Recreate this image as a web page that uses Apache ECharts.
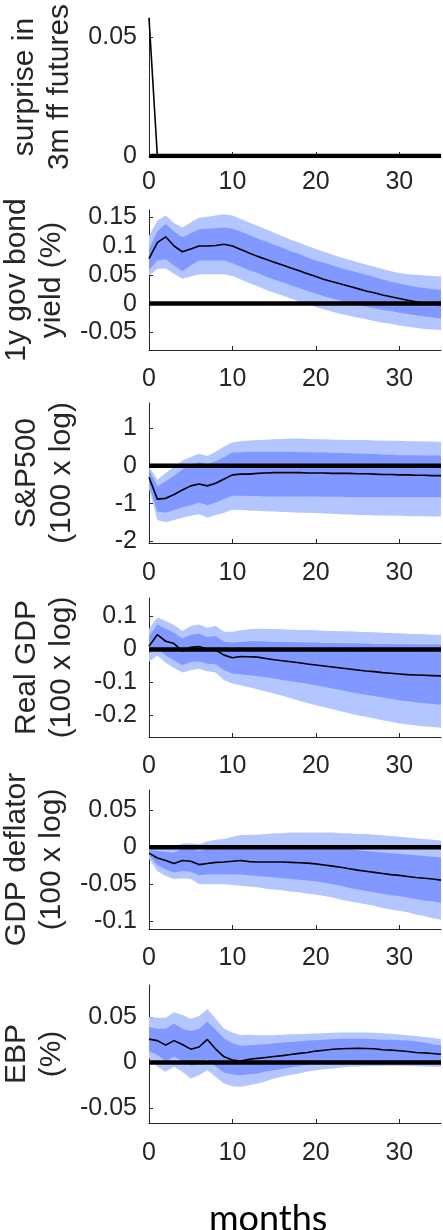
<!DOCTYPE html>
<html>
<head>
<meta charset="utf-8">
<script src="https://cdn.jsdelivr.net/npm/echarts@6/dist/echarts.min.js"></script>
<style>
html,body{margin:0;padding:0;background:#fff;}
#chart{width:443px;height:1230px;}
</style>
</head>
<body>
<div id="chart"></div>
<script>
var months = [0,1,2,3,4,5,6,7,8,9,10,11,12,13,14,15,16,17,18,19,20,21,22,23,24,25,26,27,28,29,30,31,32,33,34,35];
var xTicks = [0,10,20,30];

// Panel 1: surprise in 3m ff futures
var p1Line = [0.058,0,0,0,0,0,0,0,0,0,0,0,0,0,0,0,0,0,0,0,0,0,0,0,0,0,0,0,0,0,0,0,0,0,0,0];
var p1Ticks = [0,0.05];

// Panel 2: 1y gov bond yield
var p2Line = [0.078,0.106,0.116,0.100,0.090,0.095,0.100,0.100,0.101,0.103,0.100,0.094,0.088,0.082,0.077,0.072,0.067,0.062,0.057,0.052,0.047,0.042,0.038,0.034,0.030,0.026,0.022,0.019,0.015,0.012,0.009,0.006,0.003,0.001,-0.001,-0.002];
var p2Hi68 = [0.095,0.125,0.138,0.125,0.115,0.122,0.129,0.130,0.131,0.132,0.130,0.125,0.119,0.113,0.108,0.102,0.097,0.091,0.086,0.080,0.075,0.071,0.066,0.062,0.058,0.054,0.050,0.046,0.042,0.038,0.035,0.032,0.029,0.027,0.025,0.024];
var p2Lo68 = [0.059,0.075,0.077,0.066,0.056,0.066,0.075,0.075,0.075,0.075,0.070,0.064,0.058,0.053,0.047,0.042,0.037,0.032,0.027,0.022,0.017,0.013,0.009,0.005,0.001,-0.002,-0.005,-0.008,-0.011,-0.013,-0.016,-0.018,-0.020,-0.022,-0.024,-0.026];
var p2Hi95 = [0.118,0.144,0.153,0.140,0.132,0.141,0.149,0.151,0.153,0.155,0.153,0.147,0.141,0.135,0.129,0.123,0.117,0.111,0.106,0.100,0.095,0.090,0.085,0.080,0.076,0.072,0.068,0.064,0.060,0.056,0.053,0.051,0.050,0.049,0.048,0.047];
var p2Lo95 = [0.049,0.060,0.061,0.052,0.043,0.047,0.051,0.051,0.051,0.051,0.048,0.042,0.036,0.030,0.024,0.019,0.014,0.009,0.004,-0.001,-0.006,-0.010,-0.014,-0.018,-0.021,-0.024,-0.027,-0.030,-0.033,-0.035,-0.038,-0.040,-0.042,-0.044,-0.045,-0.046];
var p2Ticks = [-0.05,0,0.05,0.1,0.15];

// Panel 3: S&P500
var p3Line = [-0.30,-0.88,-0.86,-0.76,-0.64,-0.53,-0.48,-0.53,-0.46,-0.35,-0.24,-0.22,-0.22,-0.20,-0.19,-0.18,-0.18,-0.18,-0.18,-0.19,-0.19,-0.19,-0.20,-0.20,-0.20,-0.21,-0.21,-0.22,-0.23,-0.23,-0.24,-0.24,-0.25,-0.25,-0.26,-0.26];
var p3Hi68 = [-0.10,-0.55,-0.41,-0.26,-0.10,0.03,0.10,0.04,0.12,0.23,0.35,0.36,0.37,0.37,0.37,0.37,0.37,0.37,0.36,0.36,0.35,0.35,0.34,0.34,0.33,0.32,0.32,0.31,0.30,0.29,0.28,0.28,0.28,0.27,0.27,0.27];
var p3Lo68 = [-0.50,-1.21,-1.24,-1.17,-1.10,-1.04,-0.97,-1.04,-0.97,-0.88,-0.79,-0.79,-0.80,-0.80,-0.81,-0.81,-0.81,-0.81,-0.81,-0.81,-0.81,-0.82,-0.82,-0.82,-0.83,-0.83,-0.83,-0.83,-0.83,-0.83,-0.83,-0.83,-0.83,-0.83,-0.83,-0.83];
var p3Hi95 = [-0.02,-0.37,-0.19,-0.03,0.14,0.23,0.32,0.26,0.37,0.51,0.62,0.65,0.67,0.68,0.69,0.70,0.71,0.72,0.72,0.71,0.70,0.70,0.69,0.69,0.68,0.68,0.68,0.67,0.67,0.66,0.66,0.65,0.65,0.64,0.64,0.63];
var p3Lo95 = [-0.60,-1.43,-1.49,-1.43,-1.37,-1.32,-1.28,-1.37,-1.30,-1.24,-1.16,-1.17,-1.18,-1.19,-1.20,-1.21,-1.22,-1.23,-1.24,-1.24,-1.25,-1.26,-1.27,-1.28,-1.29,-1.30,-1.30,-1.31,-1.31,-1.32,-1.32,-1.33,-1.33,-1.33,-1.34,-1.34];
var p3Ticks = [-2,-1,0,1];

// Panel 4: Real GDP
var p4Line = [0.010,0.045,0.025,0.018,-0.005,0.007,0.009,0.001,-0.002,-0.017,-0.025,-0.021,-0.022,-0.023,-0.027,-0.031,-0.034,-0.037,-0.040,-0.044,-0.047,-0.050,-0.053,-0.056,-0.059,-0.062,-0.065,-0.067,-0.070,-0.072,-0.074,-0.076,-0.077,-0.078,-0.079,-0.080];
var p4Hi68 = [0.040,0.076,0.063,0.051,0.033,0.045,0.048,0.038,0.041,0.023,0.021,0.023,0.025,0.025,0.024,0.023,0.023,0.022,0.022,0.021,0.021,0.020,0.020,0.019,0.019,0.018,0.018,0.017,0.017,0.016,0.016,0.016,0.015,0.015,0.015,0.015];
var p4Lo68 = [-0.012,0.003,-0.018,-0.033,-0.047,-0.038,-0.036,-0.043,-0.045,-0.063,-0.073,-0.075,-0.078,-0.081,-0.084,-0.088,-0.092,-0.096,-0.100,-0.104,-0.108,-0.113,-0.118,-0.123,-0.128,-0.133,-0.137,-0.141,-0.145,-0.149,-0.154,-0.157,-0.160,-0.163,-0.165,-0.167];
var p4Hi95 = [0.063,0.097,0.086,0.074,0.056,0.071,0.076,0.066,0.072,0.054,0.054,0.058,0.061,0.063,0.062,0.062,0.061,0.060,0.059,0.059,0.058,0.057,0.056,0.055,0.055,0.054,0.053,0.052,0.051,0.050,0.049,0.048,0.047,0.046,0.045,0.044];
var p4Lo95 = [-0.036,-0.018,-0.040,-0.056,-0.070,-0.063,-0.058,-0.066,-0.070,-0.093,-0.103,-0.108,-0.114,-0.120,-0.127,-0.133,-0.140,-0.148,-0.155,-0.162,-0.169,-0.175,-0.181,-0.187,-0.193,-0.199,-0.204,-0.209,-0.214,-0.219,-0.224,-0.227,-0.230,-0.233,-0.235,-0.237];
var p4Ticks = [-0.2,-0.1,0,0.1];

// Panel 5: GDP deflator
var p5Line = [-0.008,-0.0145,-0.018,-0.022,-0.018,-0.019,-0.0235,-0.022,-0.0205,-0.020,-0.019,-0.018,-0.0195,-0.020,-0.020,-0.020,-0.020,-0.0205,-0.021,-0.0215,-0.0225,-0.024,-0.0255,-0.027,-0.029,-0.031,-0.0325,-0.034,-0.0355,-0.037,-0.038,-0.0395,-0.041,-0.042,-0.043,-0.0445];
var p5Hi68 = [-0.0036,-0.005,-0.006,-0.007,-0.002,-0.002,-0.005,-0.002,-0.001,0.000,0.001,0.002,0.002,0.002,0.002,0.002,0.002,0.002,0.001,0.001,0.000,-0.001,-0.001,-0.002,-0.003,-0.004,-0.005,-0.006,-0.007,-0.008,-0.009,-0.010,-0.011,-0.012,-0.013,-0.014];
var p5Lo68 = [-0.011,-0.024,-0.030,-0.034,-0.032,-0.033,-0.038,-0.037,-0.037,-0.037,-0.037,-0.037,-0.038,-0.039,-0.040,-0.041,-0.042,-0.043,-0.044,-0.045,-0.046,-0.048,-0.050,-0.052,-0.055,-0.057,-0.059,-0.061,-0.063,-0.065,-0.066,-0.068,-0.070,-0.072,-0.073,-0.075];
var p5Hi95 = [-0.002,-0.002,0.000,0.001,0.005,0.0055,0.004,0.008,0.010,0.011,0.014,0.0165,0.017,0.017,0.018,0.019,0.019,0.020,0.020,0.020,0.020,0.020,0.020,0.019,0.019,0.018,0.018,0.017,0.016,0.015,0.014,0.013,0.012,0.011,0.010,0.009];
var p5Lo95 = [-0.0157,-0.032,-0.039,-0.043,-0.042,-0.043,-0.050,-0.050,-0.050,-0.050,-0.051,-0.052,-0.053,-0.054,-0.056,-0.057,-0.058,-0.060,-0.061,-0.063,-0.064,-0.066,-0.068,-0.071,-0.073,-0.075,-0.077,-0.079,-0.082,-0.084,-0.086,-0.088,-0.091,-0.093,-0.096,-0.098];
var p5Ticks = [-0.1,-0.05,0,0.05];

// Panel 6: EBP
var p6Line = [0.0256,0.024,0.019,0.024,0.0197,0.0146,0.017,0.0253,0.0146,0.0062,0.0026,0.0015,0.0035,0.0045,0.0055,0.0065,0.0075,0.0088,0.010,0.011,0.0125,0.0135,0.0145,0.015,0.0154,0.0155,0.0153,0.015,0.014,0.0135,0.0128,0.012,0.011,0.0105,0.0098,0.0091];
var p6Hi68 = [0.039,0.037,0.037,0.0427,0.037,0.0344,0.037,0.0447,0.0355,0.0263,0.021,0.0183,0.019,0.0195,0.020,0.021,0.022,0.0225,0.023,0.024,0.0245,0.025,0.0255,0.026,0.026,0.026,0.026,0.0255,0.025,0.025,0.0245,0.024,0.023,0.022,0.020,0.019];
var p6Lo68 = [0.0124,0.0081,0.0015,0.0062,0.0015,-0.0036,-0.001,0.0037,-0.0044,-0.0111,-0.0133,-0.014,-0.013,-0.012,-0.010,-0.0085,-0.007,-0.0055,-0.004,-0.0025,-0.001,0.000,0.001,0.0013,0.0015,0.0015,0.0013,0.001,0.001,0.0008,0.0007,0.0004,0.000,-0.0004,-0.0007,-0.001];
var p6Hi95 = [0.050,0.049,0.049,0.055,0.052,0.048,0.051,0.0586,0.048,0.037,0.0329,0.030,0.0305,0.030,0.030,0.030,0.0305,0.031,0.031,0.0315,0.0318,0.032,0.0325,0.033,0.033,0.033,0.0328,0.0325,0.032,0.0315,0.0307,0.030,0.029,0.028,0.027,0.0256];
var p6Lo95 = [0.005,-0.0048,-0.0103,-0.0048,-0.0103,-0.0176,-0.014,-0.0085,-0.0158,-0.023,-0.026,-0.0267,-0.025,-0.023,-0.0205,-0.0176,-0.0155,-0.0135,-0.012,-0.010,-0.0085,-0.0075,-0.0065,-0.0055,-0.0048,-0.0045,-0.0042,-0.004,-0.0038,-0.0037,-0.0037,-0.004,-0.0042,-0.0045,-0.0047,-0.0048];
var p6Ticks = [-0.05,0,0.05];

var zeroLine = [0,0,0,0,0,0,0,0,0,0,0,0,0,0,0,0,0,0,0,0,0,0,0,0,0,0,0,0,0,0,0,0,0,0,0,0];

var titles = ['surprise in\n3m ff futures','1y gov bond\nyield (%)','S&P500\n(100 x log)','Real GDP\n(100 x log)','GDP deflator\n(100 x log)','EBP\n(%)'];

var panels = [
  {top:18, height:138, min:0, max:0.058, ticks:p1Ticks, line:p1Line, bands:null, xm:14},
  {top:210, height:140, min:-0.0805, max:0.1625, ticks:p2Ticks, line:p2Line, bands:[p2Lo95,p2Hi95,p2Lo68,p2Hi68], xm:17},
  {top:403, height:140, min:-2.04, max:1.66, ticks:p3Ticks, line:p3Line, bands:[p3Lo95,p3Hi95,p3Lo68,p3Hi68], xm:18},
  {top:598, height:139, min:-0.265, max:0.156, ticks:p4Ticks, line:p4Line, bands:[p4Lo95,p4Hi95,p4Lo68,p4Hi68], xm:17},
  {top:790, height:139, min:-0.1105, max:0.0773, ticks:p5Ticks, line:p5Line, bands:[p5Lo95,p5Hi95,p5Lo68,p5Hi68], xm:17},
  {top:985, height:138, min:-0.0664, max:0.085, ticks:p6Ticks, line:p6Line, bands:[p6Lo95,p6Hi95,p6Lo68,p6Hi68], xm:18}
];

var AX = '#262626';
var LIGHT = '#b3c6ff';
var DARK = '#8098ff';
var FONT = 'Liberation Sans, Arial, sans-serif';

function pairs(ys){ return months.map(function(m,i){ return [m, ys[i]]; }); }

function band(gi, lo, hi, color){
  return {
    type:'custom', xAxisIndex:gi, yAxisIndex:gi, silent:true, z:1,
    data:[[0,0]],
    renderItem:function(params, api){
      var pts = [];
      for (var i = 0; i < months.length; i++) pts.push(api.coord([months[i], hi[i]]));
      for (var j = months.length - 1; j >= 0; j--) pts.push(api.coord([months[j], lo[j]]));
      return {type:'polygon', shape:{points:pts}, style:{fill:color, stroke:null}};
    }
  };
}

var grid = [], xAxis = [], yAxis = [], series = [];
panels.forEach(function(p, i){
  grid.push({left:149, width:292, top:p.top, height:p.height, containLabel:false, outerBoundsMode:'none'});
  xAxis.push({
    gridIndex:i, type:'value', min:0, max:35,
    axisLine:{show:true, onZero:false, lineStyle:{color:AX, width:1}},
    axisTick:{show:true, inside:true, length:4, customValues:xTicks, lineStyle:{color:AX}},
    axisLabel:{customValues:xTicks, margin:p.xm, fontSize:25, color:AX, fontFamily:FONT},
    splitLine:{show:false}
  });
  yAxis.push({
    gridIndex:i, type:'value', min:p.min, max:p.max,
    axisLine:{show:true, onZero:false, lineStyle:{color:AX, width:1}},
    axisTick:{show:true, inside:true, length:4, customValues:p.ticks, lineStyle:{color:AX}},
    axisLabel:{customValues:p.ticks, margin:12, fontSize:25, color:AX, fontFamily:FONT,
      formatter:function(v){ return String(Math.round(v*1000)/1000); }},
    splitLine:{show:false},
    name:titles[i], nameLocation:'middle', nameRotate:90, nameGap:70,
    nameTextStyle:{fontSize:30, lineHeight:35, color:AX, fontFamily:FONT, align:'center'}
  });
  if (p.bands){
    series.push(band(i, p.bands[0], p.bands[1], LIGHT));
    series.push(band(i, p.bands[2], p.bands[3], DARK));
  }
  series.push({type:'line', xAxisIndex:i, yAxisIndex:i, data:pairs(p.line), showSymbol:false, symbol:'none', silent:true, z:3,
    lineStyle:{color:'#000', width:1.6}});
  series.push({type:'line', xAxisIndex:i, yAxisIndex:i, data:pairs(zeroLine), showSymbol:false, symbol:'none', silent:true, z:4,
    lineStyle:{color:'#000', width:4.5}});
});

var chart = echarts.init(document.getElementById('chart'), null, {renderer:'canvas'});
chart.setOption({
  animation:false,
  backgroundColor:'#fff',
  grid:grid, xAxis:xAxis, yAxis:yAxis, series:series,
  graphic:[{type:'text', left:209, top:1201, style:{text:'months', font:'36px Lato, "Open Sans", sans-serif', fill:'#000'}}]
});
</script>
</body>
</html>
